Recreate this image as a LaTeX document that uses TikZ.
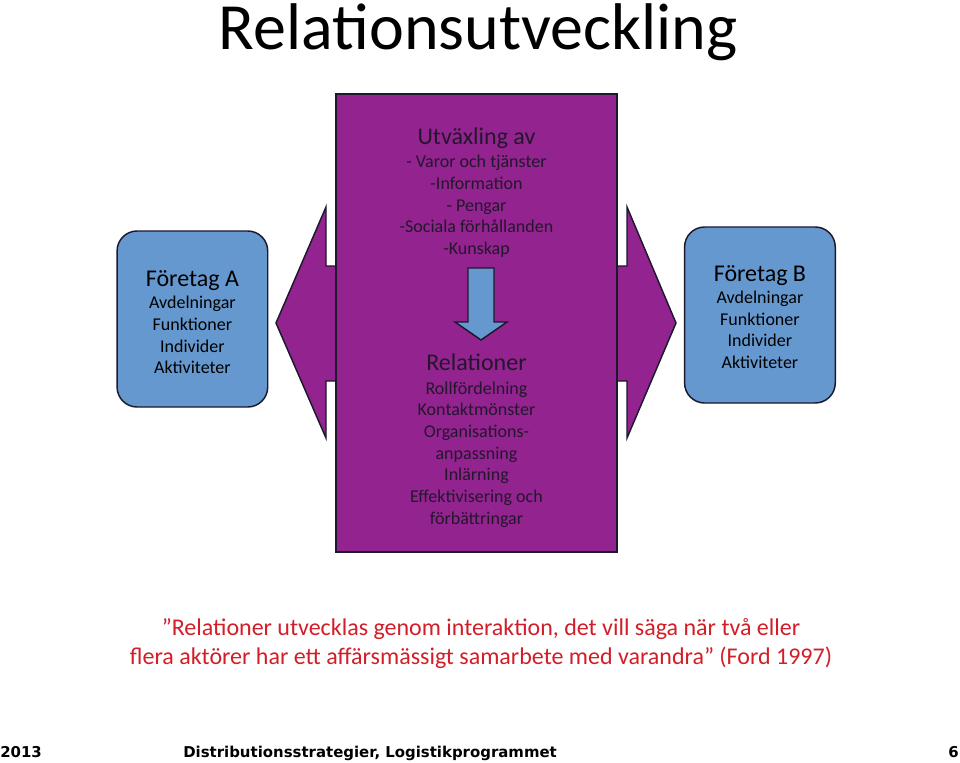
\documentclass[tikz,border=0pt]{standalone}
\usepackage{fontspec}
\setmainfont{Carlito}
\newfontfamily\footfont{DejaVu Sans}
\usetikzlibrary{positioning}

\definecolor{relpurple}{RGB}{146,35,143}
\definecolor{ftgblue}{RGB}{101,152,206}
\definecolor{edgecol}{RGB}{28,24,46}
\definecolor{quotered}{RGB}{210,30,40}
\definecolor{darktext}{RGB}{36,22,44}

\tikzset{
  ftg/.style={draw=edgecol,fill=ftgblue,line width=1.1pt,rounded corners=15pt,
    minimum width=113pt,minimum height=132pt,inner sep=0pt},
  ftgtext/.style={align=center,inner sep=0pt,
    font=\fontsize{13.5}{16.25}\selectfont},
  relbox/.style={draw=edgecol,fill=relpurple,line width=1.3pt,
    minimum width=210.75pt,minimum height=343.5pt,inner sep=0pt},
  reltext/.style={align=center,inner sep=0pt,text=darktext,
    font=\fontsize{13.5}{16.25}\selectfont},
  blockarrow/.style={draw=edgecol,line width=1.1pt,line join=miter},
  footer/.style={inner sep=0pt,anchor=base west,
    font=\footfont\bfseries\fontsize{11.2}{13}\selectfont}
}

\begin{document}
\begin{tikzpicture}[x=0.75pt,y=-0.75pt,node distance=50pt]
\useasboundingbox (0,0) rectangle (960,763);

% Title
\node[anchor=base,inner sep=0pt,font=\fontsize{49.5}{59}\selectfont] (title) at (478,50) {Relationsutveckling};

% Now the double arrow behind the relation box
\draw[blockarrow,fill=relpurple] (326,266) -- (326,207) -- (276,323) -- (326,438) -- (326,381)
  -- (627,381) -- (627,438) -- (676,323) -- (627,207) -- (627,266) -- cycle;

% Now the relation box (ID=rel)
\node[relbox] (rel) at (476.5,323) {};

% The two companies, one on each side of rel
\node[ftg,left=50pt of rel,yshift=3pt] (ftgA) {};
\node[ftgtext,yshift=-2.5pt] (ftgAtext) at (ftgA.center)
  {{\fontsize{18}{22}\selectfont Företag A}\\[0.5pt] Avdelningar\\ Funktioner\\ Individer\\ Aktiviteter};
\node[ftg,right=49.5pt of rel,yshift=6pt] (ftgB) {};
\node[ftgtext,yshift=-1.5pt] (ftgBtext) at (ftgB.center)
  {{\fontsize{18}{22}\selectfont Företag B}\\[0.5pt] Avdelningar\\ Funktioner\\ Individer\\ Aktiviteter};

% Text inside rel
\node[reltext,below=26pt of rel.north] (utv)
  {{\fontsize{18}{22}\selectfont Utväxling av}\\[1pt] - Varor och tjänster\\ -Information\\ - Pengar\\ -Sociala förhållanden\\ -Kunskap};
\node[reltext,below=195.5pt of rel.north] (relat)
  {{\fontsize{18}{22}\selectfont Relationer}\\[1.3pt] Rollfördelning\\ Kontaktmönster\\ Organisations-\\ anpassning\\ Inlärning\\ Effektivisering och\\ förbättringar};

% Down arrow from utv to relat
\draw[blockarrow,fill=ftgblue] (468,268) -- (494,268) -- (494,322) -- (507,322) -- (481,340)
  -- (455,322) -- (468,322) -- cycle;

% Quote
\node[anchor=north,inner sep=0pt,align=center,text=quotered,font=\fontsize{18}{21.75}\selectfont] (quote) at (481,618)
  {”Relationer utvecklas genom interaktion, det vill säga när två eller\\ flera aktörer har ett affärsmässigt samarbete med varandra” (Ford 1997)};

% Footer
\node[footer] (year) at (0,757) {2013};
\node[footer] (course) at (183,757) {Distributionsstrategier, Logistikprogrammet};
\node[footer,anchor=base east] (page) at (959,757) {6};
\end{tikzpicture}
\end{document}
